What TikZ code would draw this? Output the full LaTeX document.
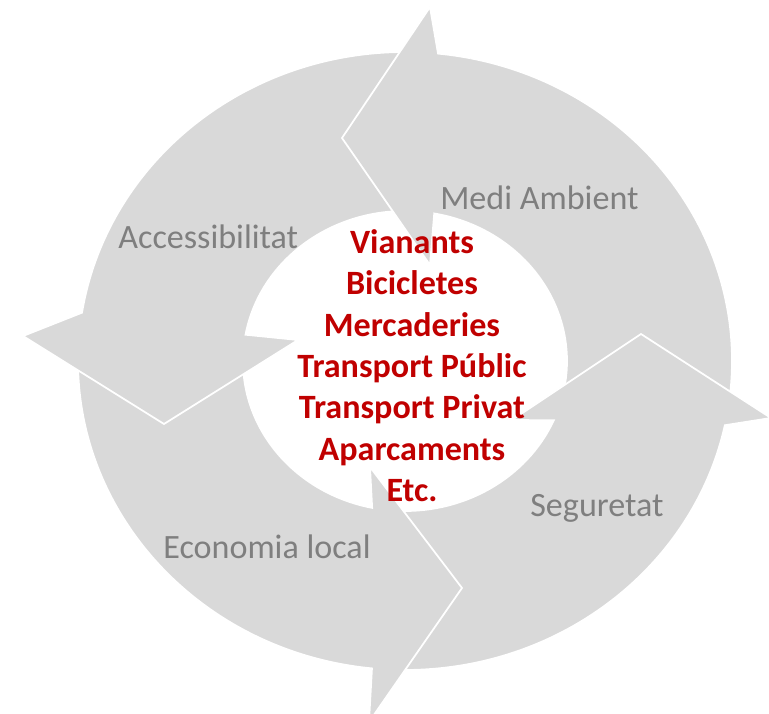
\documentclass[tikz,border=0pt]{standalone}
\usepackage{fontspec}
\setmainfont{Carlito}
\usetikzlibrary{calc}
\definecolor{bandgray}{HTML}{D9D9D9}
\definecolor{labelgray}{HTML}{7F7F7F}
\definecolor{listred}{HTML}{C00000}

\begin{document}
\begin{tikzpicture}[x=0.02cm,y=0.02cm,
    arrow shape/.style={fill=bandgray,draw=white,line width=1pt,line join=miter},
    side label/.style={anchor=base west,inner sep=0pt,text=labelgray,font=\fontsize{19.4}{23.5}\selectfont},
    core list/.style={anchor=south,inner sep=0pt,align=center,text=listred,font=\fontsize{19.4}{23.5}\selectfont\bfseries}]

  \useasboundingbox (0,0) rectangle (769,714);
  \coordinate (C) at (405,353);

  % Medi Ambient (right -> top)
  \path[arrow shape] ($(C)+(-7:327 and 309)$) arc[start angle=-7,end angle=84.2,x radius=327,y radius=309]
    -- (430,707) -- (342,576) -- (430,449) -- ($(C)+(79.6:162 and 150)$)
    arc[start angle=79.6,end angle=-15,x radius=162,y radius=150] -- cycle;
  % Seguretat (bottom -> right)
  \path[arrow shape] ($(C)+(-91.8:327 and 309)$) arc[start angle=-91.8,end angle=-12,x radius=327,y radius=309]
    -- (771,296) -- (641,380) -- (512,294) -- ($(C)+(-23.3:162 and 150)$)
    arc[start angle=-23.3,end angle=-93.5,x radius=162,y radius=150] -- cycle;
  % Economia local (left -> bottom)
  \path[arrow shape] ($(C)+(178.3:327 and 309)$) arc[start angle=178.3,end angle=264.2,x radius=327,y radius=309]
    -- (369,-8) -- (462,126) -- (370,247) -- ($(C)+(258.3:162 and 150)$)
    arc[start angle=258.3,end angle=176.6,x radius=162,y radius=150] -- cycle;
  % Accessibilitat (top -> left)
  \path[arrow shape] ($(C)+(89.1:327 and 309)$) arc[start angle=89.1,end angle=171,x radius=327,y radius=309]
    -- (23,378) -- (164,290) -- (298,374) -- ($(C)+(169.9:162 and 150)$)
    arc[start angle=169.9,end angle=88.2,x radius=162,y radius=150] -- cycle;

  % head of Medi Ambient goes over the tail of Accessibilitat
  \begin{scope}
    \clip (300,400) rectangle (470,714);
    \path[arrow shape] ($(C)+(-7:327 and 309)$) arc[start angle=-7,end angle=84.2,x radius=327,y radius=309]
      -- (430,707) -- (342,576) -- (430,449) -- ($(C)+(79.6:162 and 150)$)
      arc[start angle=79.6,end angle=-15,x radius=162,y radius=150] -- cycle;
  \end{scope}

  \node[side label] (medi) at (440,504) {Medi Ambient};
  \node[side label] (acces) at (118,465) {Accessibilitat};
  \node[side label] (segur) at (530,197) {Seguretat};
  \node[side label] (econ) at (163,155) {Economia local};

  \node[core list] (core) at (412,212) {Vianants\\Bicicletes\\Mercaderies\\Transport Públic\\Transport Privat\\Aparcaments\\Etc.};
\end{tikzpicture}
\end{document}
